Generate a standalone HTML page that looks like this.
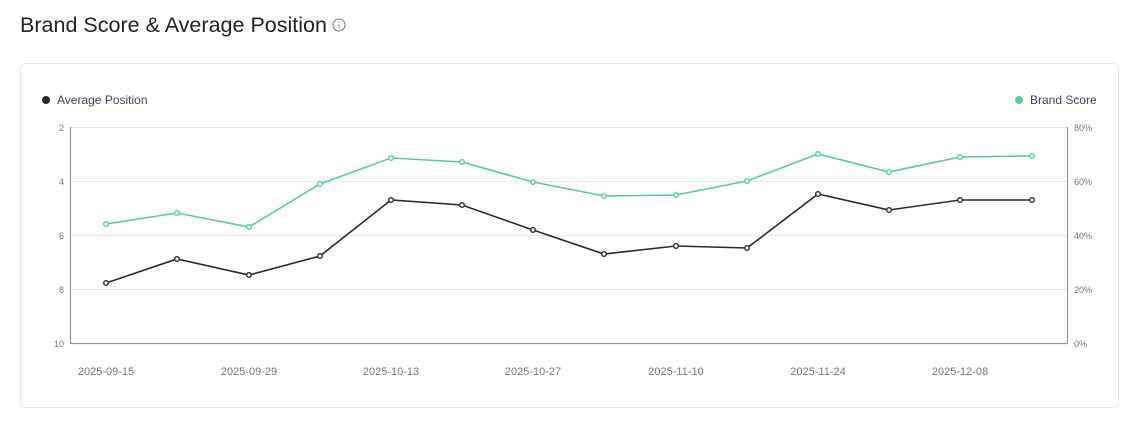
<!DOCTYPE html>
<html><head><meta charset="utf-8"><style>
body{margin:0;background:#fff;width:1140px;height:426px;overflow:hidden;font-family:"Liberation Sans",sans-serif}
</style></head><body>
<svg width="1140" height="426" xmlns="http://www.w3.org/2000/svg" font-family="Liberation Sans, sans-serif">
<text x="20" y="32" font-size="21" fill="#222" textLength="307" lengthAdjust="spacingAndGlyphs">Brand Score &amp; Average Position</text>
<circle cx="339" cy="25" r="6" fill="none" stroke="#777" stroke-width="1"/>
<text x="339" y="28.5" font-size="9" fill="#777" text-anchor="middle">i</text>
<rect x="20.5" y="63.5" width="1098" height="344" rx="6" fill="#fff" stroke="#e6e8ec"/>
<circle cx="46" cy="100" r="4" fill="#2a2a2a"/>
<text x="57" y="104" font-size="12" fill="#3c4563">Average Position</text>
<circle cx="1019" cy="100" r="4" fill="#4fcf9f"/>
<text x="1030" y="104" font-size="12" fill="#3c4563">Brand Score</text>
<g stroke="#e6e9f0" stroke-width="1">
<line x1="70" y1="127.5" x2="1068" y2="127.5"/>
<line x1="70" y1="181.5" x2="1068" y2="181.5"/>
<line x1="70" y1="235.5" x2="1068" y2="235.5"/>
<line x1="70" y1="289.5" x2="1068" y2="289.5"/>
</g>
<g stroke="#999" stroke-width="1.2">
<line x1="70.5" y1="127" x2="70.5" y2="343"/>
<line x1="1067.5" y1="127" x2="1067.5" y2="343"/>
<line x1="70" y1="343.5" x2="1068" y2="343.5"/>
</g>
<g font-size="9" fill="#777" text-anchor="end">
<text x="64" y="131">2</text><text x="64" y="185">4</text><text x="64" y="239">6</text><text x="64" y="293">8</text><text x="64" y="347">10</text>
</g>
<g font-size="9" fill="#777">
<text x="1074" y="131">80%</text><text x="1074" y="185">60%</text><text x="1074" y="239">40%</text><text x="1074" y="293">20%</text><text x="1074" y="347">0%</text>
</g>
<g font-size="11" fill="#777" text-anchor="middle">
<text x="106" y="375">2025-09-15</text><text x="249" y="375">2025-09-29</text><text x="391" y="375">2025-10-13</text><text x="533" y="375">2025-10-27</text><text x="676" y="375">2025-11-10</text><text x="818" y="375">2025-11-24</text><text x="960" y="375">2025-12-08</text>
</g>
<polyline fill="none" stroke="#4fcf9f" stroke-width="1.6" points="106,224 177,213 249,227 320,184 391,158 462,162 533,182 604,196 676,195 747,181 818,154 889,172 960,157 1032,156"/>
<g fill="#fff" stroke="#4fcf9f" stroke-width="1.4">
<circle cx="106" cy="224" r="2.3"/><circle cx="177" cy="213" r="2.3"/><circle cx="249" cy="227" r="2.3"/><circle cx="320" cy="184" r="2.3"/><circle cx="391" cy="158" r="2.3"/><circle cx="462" cy="162" r="2.3"/><circle cx="533" cy="182" r="2.3"/><circle cx="604" cy="196" r="2.3"/><circle cx="676" cy="195" r="2.3"/><circle cx="747" cy="181" r="2.3"/><circle cx="818" cy="154" r="2.3"/><circle cx="889" cy="172" r="2.3"/><circle cx="960" cy="157" r="2.3"/><circle cx="1032" cy="156" r="2.3"/>
</g>
<polyline fill="none" stroke="#2a2a2a" stroke-width="1.6" points="106,283 177,259 249,275 320,256 391,200 462,205 533,230 604,254 676,246 747,248 818,194 889,210 960,200 1032,200"/>
<g fill="#fff" stroke="#2a2a2a" stroke-width="1.4">
<circle cx="106" cy="283" r="2.3"/><circle cx="177" cy="259" r="2.3"/><circle cx="249" cy="275" r="2.3"/><circle cx="320" cy="256" r="2.3"/><circle cx="391" cy="200" r="2.3"/><circle cx="462" cy="205" r="2.3"/><circle cx="533" cy="230" r="2.3"/><circle cx="604" cy="254" r="2.3"/><circle cx="676" cy="246" r="2.3"/><circle cx="747" cy="248" r="2.3"/><circle cx="818" cy="194" r="2.3"/><circle cx="889" cy="210" r="2.3"/><circle cx="960" cy="200" r="2.3"/><circle cx="1032" cy="200" r="2.3"/>
</g>
</svg>
</body></html>
